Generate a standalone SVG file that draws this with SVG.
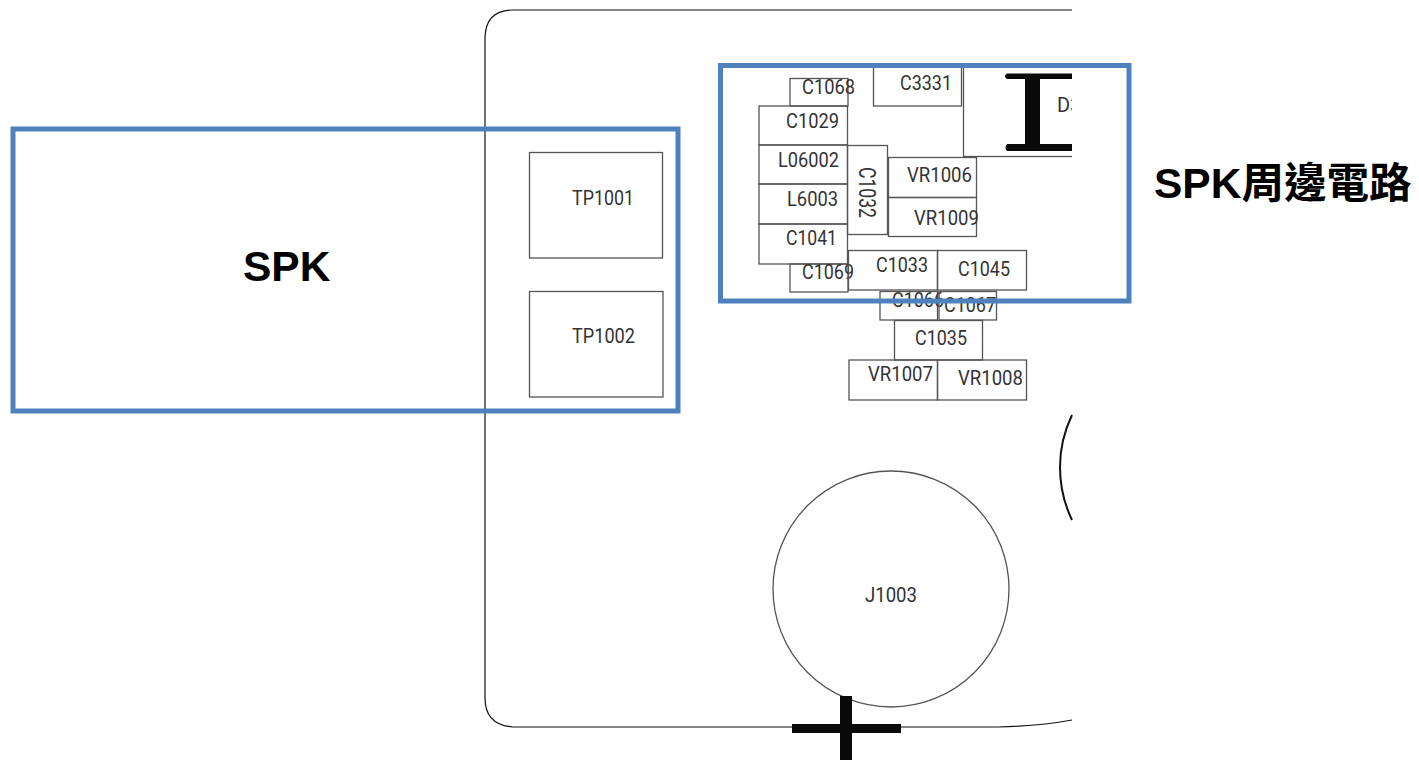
<svg xmlns="http://www.w3.org/2000/svg" width="1419" height="760" viewBox="0 0 1419 760">
<style>
.o{fill:none;stroke:#111;stroke-width:1.2}
.a{fill:none;stroke:#111;stroke-width:2}
.b{fill:none;stroke:#555;stroke-width:1.3}
.c{fill:#0a0a0a}
.t{font-family:Roboto,"Liberation Sans",sans-serif;font-size:20px;fill:#333}
.v{font-size:24px}
.h{font-family:"Liberation Sans","Noto Sans CJK TC",sans-serif;font-size:42.5px;font-weight:bold;fill:#000}
.f{fill:none;stroke:#4f81bd;stroke-width:5}
</style>
<defs><clipPath id="clip"><rect x="960" y="60" width="112" height="100"/></clipPath></defs>
<rect width="1419" height="760" fill="#fff"/>
<g id="board">
<path class="o" d="M1072 10H513Q486 10 485 37V698Q485 725 513 727H998Q1040 726 1072 720"/>
<path class="a" d="M1072 415Q1060 440 1060 467Q1060 495 1072 520"/>
</g>
<g id="n-j1003"><circle class="b" cx="891" cy="589" r="118"/><text class="t" x="865" y="602" textLength="52" lengthAdjust="spacingAndGlyphs">J1003</text></g>
<g id="n-tp1001"><rect class="b" x="529.500" y="152.500" width="133" height="105.500"/><text class="t" x="572" y="205" textLength="62" lengthAdjust="spacingAndGlyphs">TP1001</text></g>
<g id="n-tp1002"><rect class="b" x="529.500" y="291.500" width="133.500" height="105.500"/><text class="t" x="572" y="343" textLength="63" lengthAdjust="spacingAndGlyphs">TP1002</text></g>
<g id="n-c1068"><rect class="b" x="790" y="78.500" width="58" height="27.500"/><text class="t" x="802" y="94" textLength="53" lengthAdjust="spacingAndGlyphs">C1068</text></g>
<g id="n-c3331"><rect class="b" x="873.500" y="66" width="88" height="40"/><text class="t" x="900" y="90" textLength="52" lengthAdjust="spacingAndGlyphs">C3331</text></g>
<g id="n-d3"><rect class="b" x="963.500" y="66" width="110" height="90.500" clip-path="url(#clip)"/><text class="t" x="1057" y="112" clip-path="url(#clip)">D3</text>
<path class="c" d="M1007 73.500H1072V79H1040V144H1072V151H1007Q1004 148 1007 144H1025V79H1007Q1003 76 1007 73.500Z"/></g>
<g id="n-c1029"><rect class="b" x="759" y="106" width="88.500" height="39"/><text class="t" x="786" y="128" textLength="53" lengthAdjust="spacingAndGlyphs">C1029</text></g>
<g id="n-l06002"><rect class="b" x="759" y="145" width="88.500" height="39"/><text class="t" x="778" y="167" textLength="61" lengthAdjust="spacingAndGlyphs">L06002</text></g>
<g id="n-l6003"><rect class="b" x="759" y="184" width="88.500" height="40"/><text class="t" x="787" y="206" textLength="51" lengthAdjust="spacingAndGlyphs">L6003</text></g>
<g id="n-c1041"><rect class="b" x="759" y="224" width="88.500" height="40"/><text class="t" x="786" y="245" textLength="51" lengthAdjust="spacingAndGlyphs">C1041</text></g>
<g id="n-c1032"><rect class="b" x="847.500" y="145.500" width="40" height="89"/><text class="t v" transform="translate(859 167) rotate(90)" textLength="51" lengthAdjust="spacingAndGlyphs">C1032</text></g>
<g id="n-vr1006"><rect class="b" x="888.500" y="157.500" width="88" height="40"/><text class="t" x="907" y="182" textLength="65" lengthAdjust="spacingAndGlyphs">VR1006</text></g>
<g id="n-vr1009"><rect class="b" x="888.500" y="197.500" width="88" height="39"/><text class="t" x="914" y="225" textLength="65" lengthAdjust="spacingAndGlyphs">VR1009</text></g>
<g id="n-c1069"><rect class="b" x="790" y="264" width="58" height="28"/><text class="t" x="802" y="279" textLength="52" lengthAdjust="spacingAndGlyphs">C1069</text></g>
<g id="n-c1033"><rect class="b" x="848.500" y="250.500" width="89" height="39.500"/><text class="t" x="876" y="272" textLength="52" lengthAdjust="spacingAndGlyphs">C1033</text></g>
<g id="n-c1045"><rect class="b" x="937.500" y="250.500" width="89" height="39.500"/><text class="t" x="958" y="276" textLength="52" lengthAdjust="spacingAndGlyphs">C1045</text></g>
<g id="n-c1066"><rect class="b" x="880" y="291.500" width="57.500" height="28.500"/><text class="t" x="892" y="307" textLength="52" lengthAdjust="spacingAndGlyphs">C1066</text></g>
<g id="n-c1067"><rect class="b" x="939" y="291.500" width="57.500" height="28.500"/><text class="t" x="944" y="312" textLength="52" lengthAdjust="spacingAndGlyphs">C1067</text></g>
<g id="n-c1035"><rect class="b" x="894.500" y="320.500" width="88" height="39.500"/><text class="t" x="915" y="345" textLength="52" lengthAdjust="spacingAndGlyphs">C1035</text></g>
<g id="n-vr1007"><rect class="b" x="849" y="360" width="88.500" height="40"/><text class="t" x="868" y="381" textLength="65" lengthAdjust="spacingAndGlyphs">VR1007</text></g>
<g id="n-vr1008"><rect class="b" x="937.500" y="360" width="89" height="40"/><text class="t" x="958" y="385" textLength="65" lengthAdjust="spacingAndGlyphs">VR1008</text></g>
<g id="marks"><path class="c" d="M840 696H852V724H901V733H852V760H840V733H792V724H840Z"/></g>
<g id="n-spk"><rect class="f" x="13" y="129" width="665" height="282"/><text class="h" x="243" y="280.500">SPK</text></g>
<g id="n-spk-circuit"><rect class="f" x="720.500" y="65.500" width="408.500" height="235.500"/><text class="h" x="1154" y="198">SPK周邊電路</text></g>
<g id="connectors"/>
</svg>
